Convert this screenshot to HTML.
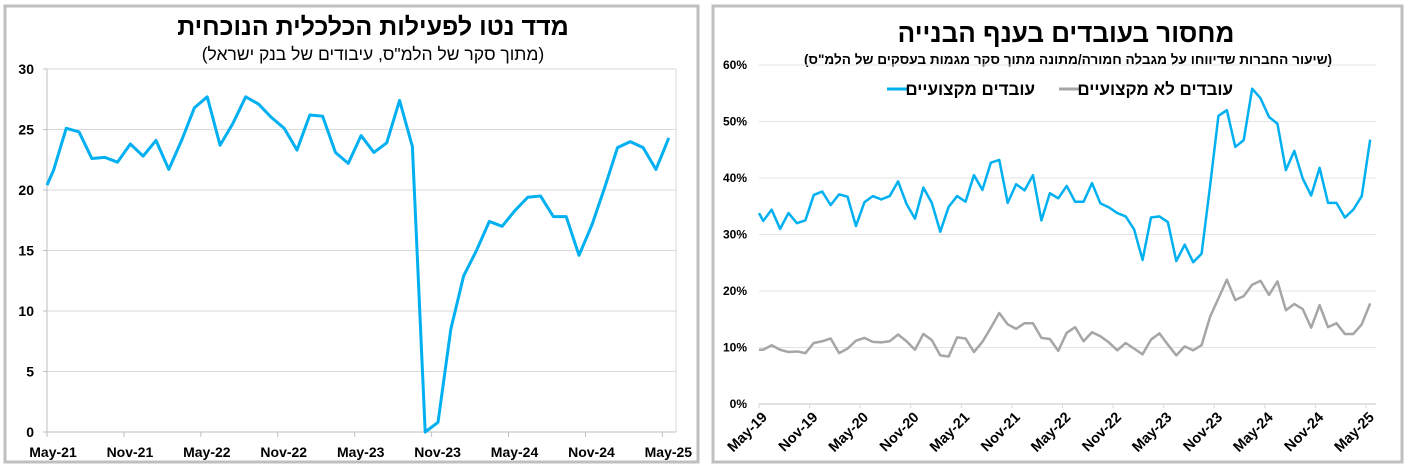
<!DOCTYPE html>
<html><head><meta charset="utf-8">
<style>
html,body{margin:0;padding:0;background:#fff;}
svg{display:block;font-family:"Liberation Sans","DejaVu Sans",sans-serif;}
</style></head>
<body>
<svg id="svg" width="1412" height="470" viewBox="0 0 1412 470" xmlns="http://www.w3.org/2000/svg">
  <rect x="0" y="0" width="1412" height="470" fill="#fff"/>
  <rect x="5" y="6" width="693" height="456" fill="none" stroke="#bfbfbf" stroke-width="3"/>
  <rect x="713" y="6" width="689" height="456" fill="none" stroke="#bfbfbf" stroke-width="3"/>

  <text x="373" y="35" text-anchor="middle" font-size="25" font-weight="bold" direction="rtl">מדד נטו לפעילות הכלכלית הנוכחית</text>
  <text x="373" y="60" text-anchor="middle" font-size="17.5" direction="rtl">(מתוך סקר של הלמ"ס, עיבודים של בנק ישראל)</text>

  <text x="1066" y="42" text-anchor="middle" font-size="26" font-weight="bold" direction="rtl">מחסור בעובדים בענף הבנייה</text>
  <text x="1068" y="64" text-anchor="middle" font-size="13.6" font-weight="bold" direction="rtl">(שיעור החברות שדיווחו על מגבלה חמורה/מתונה מתוך סקר מגמות בעסקים של הלמ"ס)</text>

  <g id="left"></g>
  <g id="right"></g>

  <g>
    <g>
      <line x1="1059" y1="89" x2="1080" y2="89" stroke="#a6a6a6" stroke-width="3"/>
      <text x="1233" y="95" text-anchor="end" font-size="17" font-weight="bold" direction="ltr">עובדים לא מקצועיים</text>
    </g>
    <g>
      <line x1="887" y1="89" x2="908" y2="89" stroke="#00b0f0" stroke-width="3"/>
      <text x="1035" y="95" text-anchor="end" font-size="17" font-weight="bold" direction="ltr">עובדים מקצועיים</text>
    </g>
  </g>
</svg>
<script>
// ---- Left chart data ----
const leftValues = [20.4,21.6,25.1,24.8,22.6,22.7,22.3,23.8,22.8,24.1,21.7,24.1,26.8,27.7,23.7,25.5,27.7,27.1,26.0,25.1,23.3,26.2,26.1,23.1,22.2,24.5,23.1,23.9,27.4,23.6,0,0.8,8.5,12.9,15.0,17.4,17.0,18.3,19.4,19.5,17.8,17.8,14.6,17.1,20.2,23.5,24.0,23.5,21.7,24.3];
const leftYTicks = [0,5,10,15,20,25,30];
const leftXLabels = ["May-21","Nov-21","May-22","Nov-22","May-23","Nov-23","May-24","Nov-24","May-25"];

// ---- Right chart data ----
const skilledValues = [33.8,32.4,34.4,31.0,33.8,32.0,32.5,37.0,37.6,35.2,37.1,36.7,31.5,35.7,36.8,36.2,36.8,39.4,35.4,32.8,38.3,35.6,30.5,34.9,36.8,35.8,
 40.5,37.9,42.7,43.2,35.6,38.9,37.8,40.5,32.5,37.3,36.4,38.6,35.8,35.8,39.1,35.5,34.8,33.8,33.2,30.9,25.5,33.0,33.2,32.2,25.3,
 28.2,25.1,26.6,38.5,51.0,52.0,45.5,46.7,55.8,54.1,50.8,49.6,41.4,44.8,39.9,36.9,41.8,35.6,35.6,33.0,34.4,36.8,46.8];
const unskilledValues = [9.6,9.6,10.4,9.6,9.2,9.3,9.0,10.8,11.1,11.6,9.0,9.8,11.2,11.7,11.0,10.9,11.1,12.3,11.1,9.6,12.4,11.3,8.6,8.4,11.8,11.6,
 9.2,11.0,13.5,16.1,14.1,13.3,14.3,14.3,11.7,11.5,9.4,12.6,13.6,11.1,12.7,12.0,10.9,9.5,10.8,9.8,8.8,11.4,12.5,10.5,8.6,
 10.2,9.5,10.4,15.4,18.7,22.0,18.4,19.1,21.1,21.8,19.3,21.7,16.6,17.7,16.8,13.5,17.5,13.6,14.3,12.4,12.4,14.1,17.8];
const rightYTicks = [0,10,20,30,40,50,60];
const rightXLabels = ["May-19","Nov-19","May-20","Nov-20","May-21","Nov-21","May-22","Nov-22","May-23","Nov-23","May-24","Nov-24","May-25"];

const NS = "http://www.w3.org/2000/svg";
function mk(tag, attrs, parent){ const e=document.createElementNS(NS,tag); for(const k in attrs) e.setAttribute(k,attrs[k]); parent.appendChild(e); return e; }

// Left axes
const L = {x0:47, x1:676, yTop:69, yBot:432, step:12.82};
const lx = i => Math.max(L.x0, L.x0 + (i-0.5)*L.step);
const lTick = m => L.x0 + m*L.step;
const ly = v => L.yBot - (v/30)*(L.yBot-L.yTop);
const lg = document.getElementById('left');
leftYTicks.forEach(t=>{
  if(t>0){ const g=mk('line',{x1:L.x0,x2:L.x1,y1:ly(t),y2:ly(t),stroke:'#d9d9d9','stroke-width':1},lg);
  
   }
  const tx=mk('text',{x:34,y:ly(t)+5,'text-anchor':'end','font-size':14,'font-weight':'bold'},lg);
  tx.textContent=t;
  
  
  const tk=mk('line',{x1:L.x0-4,x2:L.x0,y1:ly(t),y2:ly(t),stroke:'#bfbfbf'},lg);
  
  
});
const lr=mk('line',{x1:L.x1,x2:L.x1,y1:L.yTop,y2:L.yBot,stroke:'#d9d9d9'},lg);


const lya=mk('line',{x1:L.x0,x2:L.x0,y1:L.yTop,y2:L.yBot,stroke:'#bfbfbf'},lg);


const lxa=mk('line',{x1:L.x0,x2:L.x1,y1:L.yBot,y2:L.yBot,stroke:'#bfbfbf'},lg);


leftXLabels.forEach((s,k)=>{
  const x=lTick(k*6);
  const tk=mk('line',{x1:x,x2:x,y1:L.yBot,y2:L.yBot+5,stroke:'#bfbfbf'},lg);
  
  
  const tx=mk('text',{x:x+6,y:457,'text-anchor':'middle','font-size':14,'font-weight':'bold'},lg);
  tx.textContent=s;
  
  
});
const lp=mk('polyline',{points:leftValues.map((v,i)=>lx(i)+','+ly(v)).join(' '),fill:'none',stroke:'#00b0f0','stroke-width':3,'stroke-linejoin':'round'},lg);



// Right axes
const R = {x0:759, x1:1376, yTop:65, yBot:404, step:8.43};
const rx = i => Math.max(R.x0, R.x0 + (i-0.5)*R.step);
const rTick = m => R.x0 + m*R.step;
const ry = v => R.yBot - (v/60)*(R.yBot-R.yTop);
const rg = document.getElementById('right');
rightYTicks.forEach(t=>{
  const g=mk('line',{x1:R.x0,x2:R.x1,y1:ry(t),y2:ry(t),stroke:t===0?'#d9d9d9':'#e3e3e3','stroke-width':t===0?1.5:1},rg);
  
  
  const tx=mk('text',{x:747,y:ry(t)+4,'text-anchor':'end','font-size':12,'font-weight':'bold'},rg);
  tx.textContent=t+'%';
  
  
});
rightXLabels.forEach((s,k)=>{
  const x=rTick(k*6);
  const tk=mk('line',{x1:x,x2:x,y1:R.yBot,y2:R.yBot+4,stroke:'#d9d9d9'},rg);
  
  
  const ax=x+9, ay=R.yBot+14;
  const tx=mk('text',{x:ax,y:ay,'text-anchor':'end','font-size':14.5,'font-weight':'bold',transform:'rotate(-45 '+ax+' '+ay+')'},rg);
  tx.textContent=s;
  
  
});
const up=mk('polyline',{points:unskilledValues.map((v,i)=>rx(i)+','+ry(v)).join(' '),fill:'none',stroke:'#a6a6a6','stroke-width':2.5,'stroke-linejoin':'round'},rg);


const sp=mk('polyline',{points:skilledValues.map((v,i)=>rx(i)+','+ry(v)).join(' '),fill:'none',stroke:'#00b0f0','stroke-width':2.5,'stroke-linejoin':'round'},rg);


</script>
</body></html>
